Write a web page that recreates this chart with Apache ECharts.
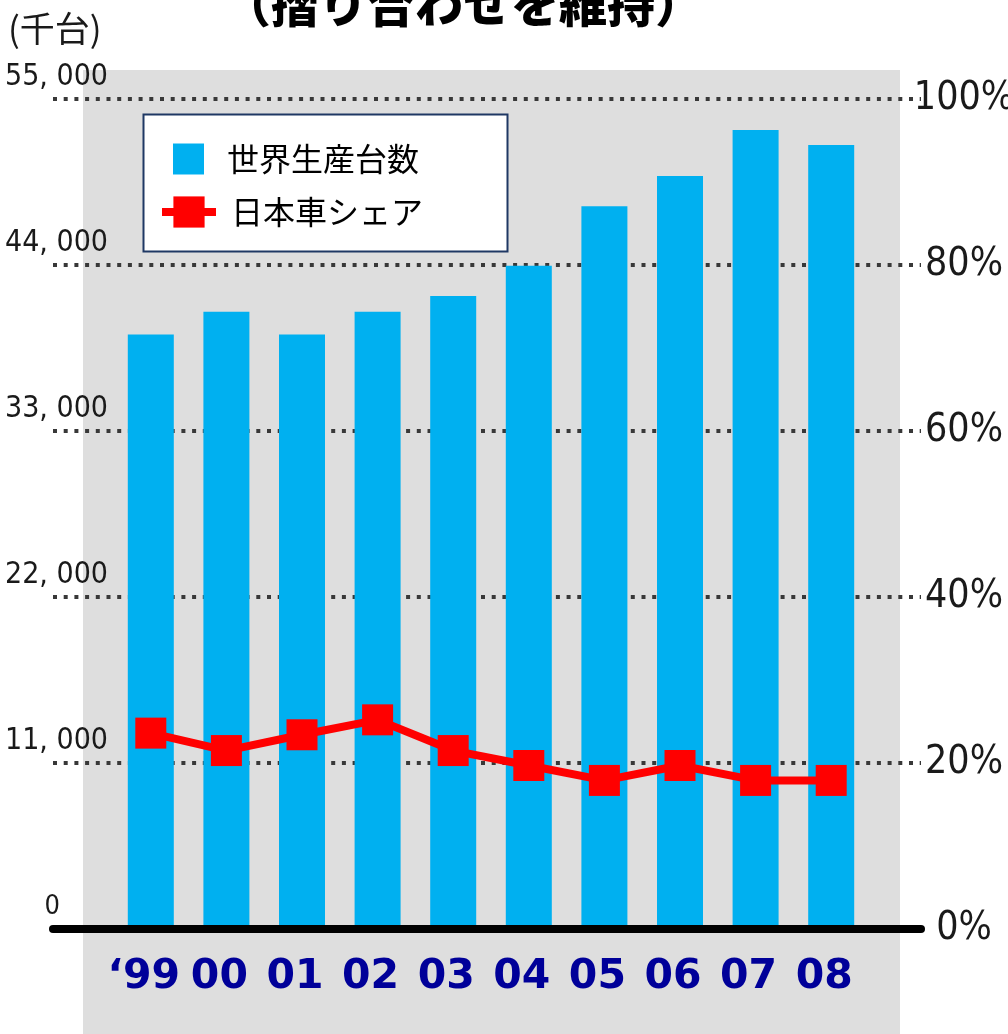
<!DOCTYPE html>
<html>
<head>
<meta charset="utf-8">
<script src="https://cdn.jsdelivr.net/npm/echarts@6/dist/echarts.min.js"></script>
<style>
html, body { margin: 0; padding: 0; background: #fff; }
#chart { width: 1008px; height: 1034px; }
</style>
</head>
<body>
<div id="chart"></div>
<script>
// 世界生産台数 (千台) と 日本車シェア (%)
const years = ['‘99', '00', '01', '02', '03', '04', '05', '06', '07', '08']
const production = [39400, 40900, 39400, 40900, 41950, 43950, 47900, 49900, 52950, 51950]
const share = [23.6, 21.5, 23.4, 25.2, 21.5, 19.7, 17.9, 19.7, 17.9, 17.9]
const leftTicks = ['0', '11, 000', '22, 000', '33, 000', '44, 000', '55, 000']
const rightTicks = ['0%', '20%', '40%', '60%', '80%', '100%']

const NARROW = "'Liberation Sans Narrow', 'DejaVu Sans Condensed', 'Roboto Condensed', 'Liberation Sans', sans-serif"
const JP = "'Noto Sans CJK JP', sans-serif"

const chart = echarts.init(document.getElementById('chart'))

const option = {
  animation: false,
  backgroundColor: '#fff',
  grid: [
    // bars + line
    { left: 113, right: 139, top: 99, bottom: 105, outerBoundsMode: 'none', containLabel: false },
    // wider grid only for the dotted guides and the base line
    { left: 53, right: 87, top: 99, bottom: 105, outerBoundsMode: 'none', containLabel: false }
  ],
  xAxis: [
    {
      type: 'category',
      gridIndex: 0,
      data: years,
      axisLine: { show: false },
      axisTick: { show: false },
      axisLabel: {
        interval: 0,
        margin: 28,
        padding: [0, 14, 0, 0],
        color: '#000099',
        fontWeight: 'bold',
        fontSize: 41,
        fontFamily: "'DejaVu Sans', Verdana, sans-serif"
      }
    },
    {
      type: 'value',
      gridIndex: 1,
      min: 0,
      max: 1,
      z: 10,
      axisLine: { show: true, lineStyle: { color: '#000', width: 8 } },
      axisTick: { show: false },
      axisLabel: { show: false },
      splitLine: { show: false }
    }
  ],
  yAxis: [
    {
      type: 'value',
      gridIndex: 0,
      min: 0,
      max: 55000,
      interval: 11000,
      axisLine: { show: false },
      axisTick: { show: false },
      splitLine: { show: false },
      axisLabel: {
        margin: 5,
        align: 'right',
        verticalAlign: 'bottom',
        padding: [0, 0, 5, 0],
        color: '#1a1a1a',
        fontSize: 30,
        lineHeight: 34,
        fontFamily: NARROW,
        formatter: v => v === 0 ? '{z|0}' : leftTicks[Math.round(v / 11000)],
        rich: {
          z: { fontSize: 27, lineHeight: 34, fontFamily: NARROW, color: '#1a1a1a', padding: [0, 48, 0, 0] }
        }
      }
    },
    {
      type: 'value',
      gridIndex: 0,
      position: 'right',
      min: 0,
      max: 100,
      interval: 20,
      axisLine: { show: false },
      axisTick: { show: false },
      splitLine: { show: false },
      axisLabel: {
        margin: 95,
        align: 'center',
        color: '#1a1a1a',
        fontSize: 39,
        fontFamily: NARROW,
        formatter: v => rightTicks[Math.round(v / 20)]
      }
    },
    {
      type: 'value',
      gridIndex: 1,
      min: 0,
      max: 55000,
      interval: 11000,
      axisLine: { show: false },
      axisTick: { show: false },
      axisLabel: { show: false },
      splitLine: { lineStyle: { color: '#383838', width: 4, type: [4, 6.7] } }
    }
  ],
  legend: [
    {
      data: ['世界生産台数'],
      left: 173,
      top: 143,
      padding: 0,
      itemWidth: 31,
      itemHeight: 31,
      icon: 'rect',
      textStyle: { color: '#000', fontSize: 32, fontFamily: JP, padding: [0, 0, 0, 18] }
    },
    {
      data: ['日本車シェア'],
      left: 158,
      top: 196,
      padding: 0,
      itemWidth: 54,
      itemHeight: 39,
      lineStyle: { width: 8 },
      textStyle: { color: '#000', fontSize: 32, fontFamily: JP, padding: [0, 0, 0, 10] }
    }
  ],
  graphic: [
    {
      type: 'rect',
      z: -10,
      silent: true,
      shape: { x: 83, y: 70, width: 817, height: 964 },
      style: { fill: '#dedede' }
    },
    {
      type: 'rect',
      z: 3,
      silent: true,
      shape: { x: 143.5, y: 114.5, width: 364, height: 137 },
      style: { fill: '#fff', stroke: '#1f3864', lineWidth: 2 }
    },
    {
      type: 'text',
      x: 463,
      y: 4,
      style: {
        text: '（摺り合わせを維持）',
        fontSize: 48,
        fontWeight: 900,
        fontFamily: JP,
        fill: '#000',
        align: 'center',
        verticalAlign: 'middle'
      }
    },
    {
      type: 'text',
      x: 8,
      y: 29,
      style: {
        text: '(千台)',
        fontSize: 35,
        fontFamily: JP,
        fill: '#1a1a1a',
        align: 'left',
        verticalAlign: 'middle'
      }
    }
  ],
  series: [
    {
      name: '世界生産台数',
      type: 'bar',
      xAxisIndex: 0,
      yAxisIndex: 0,
      barWidth: 46,
      data: production,
      itemStyle: { color: '#00b0f0' }
    },
    {
      name: '日本車シェア',
      type: 'line',
      xAxisIndex: 0,
      yAxisIndex: 1,
      z: 5,
      data: share,
      symbol: 'rect',
      symbolSize: 31,
      color: '#ff0000',
      lineStyle: { width: 8, color: '#ff0000' },
      itemStyle: { color: '#ff0000' }
    }
  ]
}

chart.setOption(option)
</script>
</body>
</html>
